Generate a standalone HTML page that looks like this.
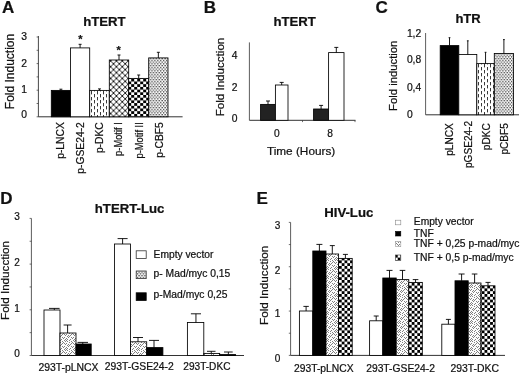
<!DOCTYPE html>
<html><head><meta charset="utf-8"><title>Figure</title>
<style>
html,body{margin:0;padding:0;background:#fff;}
body{width:520px;height:375px;overflow:hidden;}
svg{display:block;}
svg text{font-family:"Liberation Sans",Arial,Helvetica,sans-serif;fill:#111;stroke:#111;stroke-width:0.22px;}
</style></head><body>
<svg width="520" height="375" viewBox="0 0 520 375">
<defs>
<pattern id="vd" x="0" y="1" width="6" height="6" patternUnits="userSpaceOnUse"><rect width="6" height="6" fill="#fff"/><rect x="1" y="0" width="0.9" height="3.4" fill="#222"/><rect x="4" y="3" width="0.9" height="3" fill="#222"/><rect x="4" y="0" width="0.9" height="0.4" fill="#222"/></pattern>
<pattern id="xh" x="2.35" y="5.3" width="5.85" height="5.85" patternUnits="userSpaceOnUse"><rect width="5.85" height="5.85" fill="#fff"/><path d="M-1 -1L6.85 6.85M6.85 -1L-1 6.85" stroke="#0a0a0a" stroke-width="0.92"/></pattern>
<pattern id="ck" x="5.2" y="3.2" width="6" height="5.4" patternUnits="userSpaceOnUse"><rect width="6" height="5.4" fill="#fff"/><rect width="3" height="2.7" fill="#000"/><rect x="3" y="2.7" width="3" height="2.7" fill="#000"/></pattern>
<pattern id="dt" x="0.6" y="0.3" width="2.9" height="3.5" patternUnits="userSpaceOnUse"><rect width="2.9" height="3.5" fill="#fff"/><rect x="0" y="0" width="1.3" height="1.25" fill="#383838"/><rect x="1.45" y="1.75" width="1.3" height="1.25" fill="#383838"/></pattern>
<pattern id="dt2" width="3" height="3" patternUnits="userSpaceOnUse"><rect width="3" height="3" fill="#f4f4f4"/><rect width="1" height="1" fill="#777"/><rect x="1.5" y="1.5" width="1" height="1" fill="#999"/></pattern>
<pattern id="st" width="9" height="9" patternUnits="userSpaceOnUse"><rect width="9" height="9" fill="#fcfcfc"/><rect x="3" y="5" width="1" height="1" fill="#808080"/><rect x="0" y="0" width="1" height="1" fill="#808080"/><rect x="4" y="8" width="1" height="1" fill="#808080"/><rect x="2" y="6" width="1" height="1" fill="#808080"/><rect x="5" y="4" width="1" height="1" fill="#808080"/><rect x="0" y="5" width="1" height="1" fill="#808080"/><rect x="2" y="2" width="1" height="1" fill="#808080"/><rect x="4" y="3" width="1" height="1" fill="#808080"/><rect x="7" y="6" width="1" height="1" fill="#808080"/><rect x="4" y="6" width="1" height="1" fill="#808080"/><rect x="1" y="7" width="1" height="1" fill="#808080"/><rect x="3" y="1" width="1" height="1" fill="#808080"/><rect x="8" y="8" width="1" height="1" fill="#808080"/><rect x="6" y="7" width="1" height="1" fill="#808080"/><rect x="5" y="2" width="1" height="1" fill="#808080"/><rect x="1" y="1" width="1" height="1" fill="#808080"/><rect x="1" y="4" width="1" height="1" fill="#808080"/><rect x="8" y="1" width="1" height="1" fill="#808080"/><rect x="6" y="0" width="1" height="1" fill="#808080"/><rect x="6" y="3" width="1" height="1" fill="#808080"/><rect x="3" y="7" width="1" height="1" fill="#808080"/><rect x="8" y="4" width="1" height="1" fill="#808080"/><rect x="2" y="8" width="1" height="1" fill="#808080"/><rect x="7" y="2" width="1" height="1" fill="#808080"/></pattern>
<pattern id="ck2" x="2.9" y="2.8" width="5.6" height="5.6" patternUnits="userSpaceOnUse"><rect width="5.6" height="5.6" fill="#fff"/><rect width="2.8" height="2.8" fill="#000"/><rect x="2.8" y="2.8" width="2.8" height="2.8" fill="#000"/></pattern>
</defs>
<rect width="520" height="375" fill="#fff"/>

<g id="panelA">
<text x="1.9" y="13.4" font-size="17" font-weight="bold" text-anchor="start" stroke="#111" stroke-width="0.5">A</text>
<text x="83.2" y="26.1" font-size="13.2" font-weight="bold" text-anchor="start" stroke="#111" stroke-width="0.25">hTERT</text>
<line x1="38.4" y1="36" x2="38.4" y2="116.8" stroke="#333" stroke-width="0.9"/>
<line x1="38.4" y1="116.8" x2="182.6" y2="116.8" stroke="#333" stroke-width="1"/>
<line x1="36.6" y1="116.8" x2="38.4" y2="116.8" stroke="#333" stroke-width="0.7"/>
<text x="27.1" y="118.4" font-size="10.3" font-weight="normal" text-anchor="end">0</text>
<line x1="36.6" y1="90.2" x2="38.4" y2="90.2" stroke="#333" stroke-width="0.7"/>
<text x="27.1" y="93.2" font-size="10.3" font-weight="normal" text-anchor="end">1</text>
<line x1="36.6" y1="63.6" x2="38.4" y2="63.6" stroke="#333" stroke-width="0.7"/>
<text x="27.1" y="67.2" font-size="10.3" font-weight="normal" text-anchor="end">2</text>
<line x1="36.6" y1="37.0" x2="38.4" y2="37.0" stroke="#333" stroke-width="0.7"/>
<text x="27.1" y="40.3" font-size="10.3" font-weight="normal" text-anchor="end">3</text>
<line x1="36.6" y1="103.5" x2="38.4" y2="103.5" stroke="#333" stroke-width="0.7"/>
<line x1="36.6" y1="76.9" x2="38.4" y2="76.9" stroke="#333" stroke-width="0.7"/>
<line x1="36.6" y1="50.3" x2="38.4" y2="50.3" stroke="#333" stroke-width="0.7"/>
<text x="13.6" y="71.5" font-size="12" font-weight="normal" text-anchor="middle" transform="rotate(-90 13.6 71.5)">Fold Induction</text>
<rect x="51.30" y="90.40" width="19.20" height="26.40" fill="#000" stroke="#000" stroke-width="0.85"/>
<line x1="60.9" y1="90.4" x2="60.9" y2="89.2" stroke="#000" stroke-width="0.9"/>
<line x1="59.4" y1="89.2" x2="62.4" y2="89.2" stroke="#000" stroke-width="0.9"/>
<text x="64.4" y="122.2" font-size="10.3" font-weight="normal" text-anchor="end" transform="rotate(-90 64.4 122.2)">p-LNCX</text>
<rect x="70.50" y="47.90" width="19.20" height="68.90" fill="#fff" stroke="#000" stroke-width="0.85"/>
<line x1="80.1" y1="47.9" x2="80.1" y2="44.3" stroke="#000" stroke-width="0.9"/>
<line x1="78.6" y1="44.3" x2="81.6" y2="44.3" stroke="#000" stroke-width="0.9"/>
<text x="83.9" y="122.2" font-size="10.3" font-weight="normal" text-anchor="end" transform="rotate(-90 83.9 122.2)">p-GSE24-2</text>
<rect x="89.70" y="90.40" width="19.60" height="26.40" fill="url(#vd)" stroke="#000" stroke-width="0.85"/>
<line x1="99.5" y1="90.4" x2="99.5" y2="88.9" stroke="#000" stroke-width="0.9"/>
<line x1="98.0" y1="88.9" x2="101.0" y2="88.9" stroke="#000" stroke-width="0.9"/>
<text x="102.9" y="122.2" font-size="10.3" font-weight="normal" text-anchor="end" transform="rotate(-90 102.9 122.2)">p-DKC</text>
<rect x="109.30" y="60.00" width="19.40" height="56.80" fill="url(#xh)" stroke="#000" stroke-width="0.85"/>
<line x1="119.0" y1="60" x2="119.0" y2="55" stroke="#000" stroke-width="0.9"/>
<line x1="117.5" y1="55" x2="120.5" y2="55" stroke="#000" stroke-width="0.9"/>
<text x="122" y="122.2" font-size="10.3" font-weight="normal" text-anchor="end" transform="rotate(-90 122 122.2)" textLength="33.7" lengthAdjust="spacingAndGlyphs">p-Motif I</text>
<rect x="128.70" y="78.40" width="20.00" height="38.40" fill="url(#ck)" stroke="#000" stroke-width="0.85"/>
<line x1="138.7" y1="78.4" x2="138.7" y2="75.0" stroke="#000" stroke-width="0.9"/>
<line x1="137.2" y1="75.0" x2="140.2" y2="75.0" stroke="#000" stroke-width="0.9"/>
<text x="143.2" y="122.2" font-size="10.3" font-weight="normal" text-anchor="end" transform="rotate(-90 143.2 122.2)" textLength="36.3" lengthAdjust="spacingAndGlyphs">p-Motif II</text>
<rect x="148.70" y="57.90" width="19.30" height="58.90" fill="url(#dt)" stroke="#000" stroke-width="0.85"/>
<line x1="158.35" y1="57.9" x2="158.35" y2="52.3" stroke="#000" stroke-width="0.9"/>
<line x1="156.85" y1="52.3" x2="159.85" y2="52.3" stroke="#000" stroke-width="0.9"/>
<text x="162.7" y="122.2" font-size="10.3" font-weight="normal" text-anchor="end" transform="rotate(-90 162.7 122.2)">p-CBF5</text>
<text x="80.3" y="43.3" font-size="11" font-weight="bold" text-anchor="middle" stroke="#111" stroke-width="0.5">*</text>
<text x="118.7" y="54.3" font-size="11" font-weight="bold" text-anchor="middle" stroke="#111" stroke-width="0.5">*</text>
</g>
<g id="panelB">
<text x="203.7" y="12.7" font-size="17" font-weight="bold" text-anchor="start" stroke="#111" stroke-width="0.5">B</text>
<text x="273.4" y="26.1" font-size="13.2" font-weight="bold" text-anchor="start" stroke="#111" stroke-width="0.25">hTERT</text>
<line x1="249.4" y1="42.4" x2="249.4" y2="120.3" stroke="#333" stroke-width="0.8"/>
<line x1="249.4" y1="120.3" x2="355.5" y2="120.3" stroke="#333" stroke-width="1"/>
<line x1="302.5" y1="120.3" x2="302.5" y2="122.1" stroke="#333" stroke-width="0.7"/>
<line x1="355" y1="120.3" x2="355" y2="122.1" stroke="#333" stroke-width="0.7"/>
<text x="237.6" y="121.9" font-size="10.3" font-weight="normal" text-anchor="end">0</text>
<text x="237.6" y="90.9" font-size="10.3" font-weight="normal" text-anchor="end">2</text>
<text x="237.6" y="59.3" font-size="10.3" font-weight="normal" text-anchor="end">4</text>
<text x="224.2" y="77" font-size="11.6" font-weight="normal" text-anchor="middle" transform="rotate(-90 224.2 77)">Fold Inducction</text>
<rect x="260.60" y="104.40" width="14.80" height="15.90" fill="#222" stroke="#000" stroke-width="0.85"/>
<line x1="268.0" y1="104.4" x2="268.0" y2="101.0" stroke="#000" stroke-width="0.9"/>
<line x1="266.0" y1="101.0" x2="270.0" y2="101.0" stroke="#000" stroke-width="0.9"/>
<rect x="275.40" y="85.00" width="12.60" height="35.30" fill="#fff" stroke="#000" stroke-width="0.85"/>
<line x1="281.7" y1="85" x2="281.7" y2="82.4" stroke="#000" stroke-width="0.9"/>
<line x1="279.7" y1="82.4" x2="283.7" y2="82.4" stroke="#000" stroke-width="0.9"/>
<rect x="313.60" y="109.00" width="15.00" height="11.30" fill="#222" stroke="#000" stroke-width="0.85"/>
<line x1="321.1" y1="109" x2="321.1" y2="105.4" stroke="#000" stroke-width="0.9"/>
<line x1="319.1" y1="105.4" x2="323.1" y2="105.4" stroke="#000" stroke-width="0.9"/>
<rect x="328.60" y="52.60" width="15.40" height="67.70" fill="#fff" stroke="#000" stroke-width="0.85"/>
<line x1="336.3" y1="52.6" x2="336.3" y2="47.4" stroke="#000" stroke-width="0.9"/>
<line x1="334.3" y1="47.4" x2="338.3" y2="47.4" stroke="#000" stroke-width="0.9"/>
<text x="276.9" y="136.6" font-size="10.2" font-weight="normal" text-anchor="middle">0</text>
<text x="330.2" y="136.6" font-size="10.2" font-weight="normal" text-anchor="middle">8</text>
<text x="301.1" y="154.5" font-size="11.8" font-weight="normal" text-anchor="middle">Time (Hours)</text>
</g>
<g id="panelC">
<text x="375.4" y="13" font-size="17" font-weight="bold" text-anchor="start" stroke="#111" stroke-width="0.5">C</text>
<text x="455.4" y="23.3" font-size="13" font-weight="bold" text-anchor="start" stroke="#111" stroke-width="0.25">hTR</text>
<line x1="425.6" y1="33" x2="425.6" y2="114.8" stroke="#333" stroke-width="0.8"/>
<line x1="425.6" y1="114.8" x2="519" y2="114.8" stroke="#333" stroke-width="1"/>
<text x="406.9" y="118.3" font-size="10.3" font-weight="normal" text-anchor="start">0</text>
<text x="406.9" y="90.5" font-size="10.3" font-weight="normal" text-anchor="start">0,4</text>
<text x="406.9" y="63.0" font-size="10.3" font-weight="normal" text-anchor="start">0,8</text>
<text x="406.9" y="36.5" font-size="10.3" font-weight="normal" text-anchor="start">1,2</text>
<text x="397.2" y="75.8" font-size="11.3" font-weight="normal" text-anchor="middle" transform="rotate(-90 397.2 75.8)">Fold induction</text>
<rect x="440.20" y="45.60" width="18.60" height="69.20" fill="#000" stroke="#000" stroke-width="0.85"/>
<line x1="449.5" y1="45.6" x2="449.5" y2="37.7" stroke="#000" stroke-width="0.9"/>
<line x1="448.6" y1="37.7" x2="450.4" y2="37.7" stroke="#000" stroke-width="0.9"/>
<text x="452.9" y="123.2" font-size="10.1" font-weight="normal" text-anchor="end" transform="rotate(-90 452.9 123.2)">pLNCX</text>
<rect x="458.80" y="54.50" width="18.00" height="60.30" fill="#fff" stroke="#000" stroke-width="0.85"/>
<line x1="467.8" y1="54.5" x2="467.8" y2="40.8" stroke="#000" stroke-width="0.9"/>
<line x1="466.90000000000003" y1="40.8" x2="468.7" y2="40.8" stroke="#000" stroke-width="0.9"/>
<text x="472" y="120.9" font-size="10.1" font-weight="normal" text-anchor="end" transform="rotate(-90 472 120.9)">pGSE24-2</text>
<rect x="476.80" y="63.60" width="17.50" height="51.20" fill="url(#vd)" stroke="#000" stroke-width="0.85"/>
<line x1="485.55" y1="63.6" x2="485.55" y2="52.3" stroke="#000" stroke-width="0.9"/>
<line x1="484.65000000000003" y1="52.3" x2="486.45" y2="52.3" stroke="#000" stroke-width="0.9"/>
<text x="490.3" y="123.2" font-size="10.1" font-weight="normal" text-anchor="end" transform="rotate(-90 490.3 123.2)">pDKC</text>
<rect x="494.30" y="53.50" width="19.20" height="61.30" fill="url(#dt)" stroke="#000" stroke-width="0.85"/>
<line x1="503.9" y1="53.5" x2="503.9" y2="39.6" stroke="#000" stroke-width="0.9"/>
<line x1="503.0" y1="39.6" x2="504.79999999999995" y2="39.6" stroke="#000" stroke-width="0.9"/>
<text x="508.5" y="123.2" font-size="10.1" font-weight="normal" text-anchor="end" transform="rotate(-90 508.5 123.2)">pCBF5</text>
</g>
<g id="panelD">
<text x="0.3" y="204.4" font-size="17" font-weight="bold" text-anchor="start" stroke="#111" stroke-width="0.5">D</text>
<text x="94.8" y="213.2" font-size="13.2" font-weight="bold" text-anchor="start" stroke="#111" stroke-width="0.25">hTERT-Luc</text>
<line x1="31.4" y1="218.4" x2="31.4" y2="355.5" stroke="#333" stroke-width="0.8"/>
<line x1="31.4" y1="355.5" x2="244" y2="355.5" stroke="#333" stroke-width="1"/>
<line x1="29.599999999999998" y1="355.5" x2="31.4" y2="355.5" stroke="#333" stroke-width="0.7"/>
<line x1="29.599999999999998" y1="332.65" x2="31.4" y2="332.65" stroke="#333" stroke-width="0.7"/>
<line x1="29.599999999999998" y1="309.8" x2="31.4" y2="309.8" stroke="#333" stroke-width="0.7"/>
<line x1="29.599999999999998" y1="286.95" x2="31.4" y2="286.95" stroke="#333" stroke-width="0.7"/>
<line x1="29.599999999999998" y1="264.1" x2="31.4" y2="264.1" stroke="#333" stroke-width="0.7"/>
<line x1="29.599999999999998" y1="241.25" x2="31.4" y2="241.25" stroke="#333" stroke-width="0.7"/>
<line x1="29.599999999999998" y1="218.4" x2="31.4" y2="218.4" stroke="#333" stroke-width="0.7"/>
<text x="19.7" y="357.05" font-size="10" font-weight="normal" text-anchor="end">0</text>
<text x="19.7" y="312.05" font-size="10" font-weight="normal" text-anchor="end">1</text>
<text x="19.7" y="266.05" font-size="10" font-weight="normal" text-anchor="end">2</text>
<text x="19.7" y="220.05" font-size="10" font-weight="normal" text-anchor="end">3</text>
<text x="9" y="280.5" font-size="11.65" font-weight="normal" text-anchor="middle" transform="rotate(-90 9 280.5)">Fold Inducction</text>
<rect x="44.00" y="310.00" width="16.00" height="45.50" fill="#fff" stroke="#000" stroke-width="0.85"/>
<line x1="54.3" y1="310" x2="54.3" y2="308.4" stroke="#000" stroke-width="0.9"/>
<line x1="49" y1="308.4" x2="59.6" y2="308.4" stroke="#000" stroke-width="0.9"/>
<rect x="60.00" y="333.00" width="16.00" height="22.50" fill="url(#st)" stroke="#000" stroke-width="0.85"/>
<line x1="67.6" y1="333" x2="67.6" y2="325" stroke="#000" stroke-width="0.9"/>
<line x1="63.6" y1="325" x2="71.6" y2="325" stroke="#000" stroke-width="0.9"/>
<rect x="76.00" y="344.00" width="15.20" height="11.50" fill="#000" stroke="#000" stroke-width="0.85"/>
<line x1="82.75" y1="344" x2="82.75" y2="342.4" stroke="#000" stroke-width="0.9"/>
<line x1="77.5" y1="342.4" x2="88" y2="342.4" stroke="#000" stroke-width="0.9"/>
<rect x="114.50" y="244.00" width="16.00" height="111.50" fill="#fff" stroke="#000" stroke-width="0.85"/>
<line x1="122.6" y1="244" x2="122.6" y2="238.6" stroke="#000" stroke-width="0.9"/>
<line x1="117.6" y1="238.6" x2="127.6" y2="238.6" stroke="#000" stroke-width="0.9"/>
<rect x="130.50" y="341.80" width="16.20" height="13.70" fill="url(#st)" stroke="#000" stroke-width="0.85"/>
<line x1="138.0" y1="341.8" x2="138.0" y2="337.5" stroke="#000" stroke-width="0.9"/>
<line x1="133" y1="337.5" x2="143" y2="337.5" stroke="#000" stroke-width="0.9"/>
<rect x="146.70" y="347.60" width="16.20" height="7.90" fill="#000" stroke="#000" stroke-width="0.85"/>
<line x1="154.0" y1="347.6" x2="154.0" y2="340.4" stroke="#000" stroke-width="0.9"/>
<line x1="149" y1="340.4" x2="159" y2="340.4" stroke="#000" stroke-width="0.9"/>
<rect x="187.40" y="322.50" width="16.40" height="33.00" fill="#fff" stroke="#000" stroke-width="0.85"/>
<line x1="195.95" y1="322.5" x2="195.95" y2="313.8" stroke="#000" stroke-width="0.9"/>
<line x1="190.9" y1="313.8" x2="201" y2="313.8" stroke="#000" stroke-width="0.9"/>
<rect x="203.80" y="353.40" width="15.90" height="2.10" fill="url(#st)" stroke="#000" stroke-width="0.85"/>
<line x1="211.25" y1="353.4" x2="211.25" y2="351.3" stroke="#000" stroke-width="0.9"/>
<line x1="207" y1="351.3" x2="215.5" y2="351.3" stroke="#000" stroke-width="0.9"/>
<rect x="219.70" y="354.60" width="15.90" height="0.90" fill="#000" stroke="#000" stroke-width="0.85"/>
<line x1="228.35" y1="354.6" x2="228.35" y2="352" stroke="#000" stroke-width="0.9"/>
<line x1="224" y1="352" x2="232.7" y2="352" stroke="#000" stroke-width="0.9"/>
<text x="38.4" y="370.7" font-size="10.4" font-weight="normal" text-anchor="start">293T-pLNCX</text>
<text x="104.8" y="369.9" font-size="10.35" font-weight="normal" text-anchor="start">293T-GSE24-2</text>
<text x="183.3" y="369.9" font-size="10.1" font-weight="normal" text-anchor="start">293T-DKC</text>
<rect x="136.20" y="250.80" width="10.00" height="7.60" fill="#fff" stroke="#333" stroke-width="0.8"/>
<rect x="136.20" y="271.00" width="10.00" height="7.60" fill="url(#dt)" stroke="#333" stroke-width="0.8"/>
<rect x="136.20" y="292.80" width="10.00" height="7.60" fill="#000" stroke="#000" stroke-width="0.8"/>
<text x="153.6" y="258.3" font-size="10.25" font-weight="normal" text-anchor="start">Empty vector</text>
<text x="153.6" y="277.4" font-size="10.3" font-weight="normal" text-anchor="start">p- Mad/myc 0,15</text>
<text x="153.6" y="297.7" font-size="10.3" font-weight="normal" text-anchor="start">p-Mad/myc 0,25</text>
</g>
<g id="panelE">
<text x="256.6" y="203.9" font-size="17" font-weight="bold" text-anchor="start" stroke="#111" stroke-width="0.5">E</text>
<text x="324.2" y="217.4" font-size="13.2" font-weight="bold" text-anchor="start" stroke="#111" stroke-width="0.25">HIV-Luc</text>
<line x1="290.6" y1="222.4" x2="290.6" y2="355.4" stroke="#333" stroke-width="0.8"/>
<line x1="290.6" y1="355.4" x2="505" y2="355.4" stroke="#333" stroke-width="1"/>
<line x1="288.8" y1="355.4" x2="290.6" y2="355.4" stroke="#333" stroke-width="0.7"/>
<line x1="288.8" y1="333.2333333333333" x2="290.6" y2="333.2333333333333" stroke="#333" stroke-width="0.7"/>
<line x1="288.8" y1="311.06666666666666" x2="290.6" y2="311.06666666666666" stroke="#333" stroke-width="0.7"/>
<line x1="288.8" y1="288.9" x2="290.6" y2="288.9" stroke="#333" stroke-width="0.7"/>
<line x1="288.8" y1="266.73333333333335" x2="290.6" y2="266.73333333333335" stroke="#333" stroke-width="0.7"/>
<line x1="288.8" y1="244.56666666666666" x2="290.6" y2="244.56666666666666" stroke="#333" stroke-width="0.7"/>
<line x1="288.8" y1="222.4" x2="290.6" y2="222.4" stroke="#333" stroke-width="0.7"/>
<text x="280.3" y="362.05" font-size="10" font-weight="normal" text-anchor="end">0</text>
<text x="280.3" y="317.35" font-size="10" font-weight="normal" text-anchor="end">1</text>
<text x="280.3" y="274.05" font-size="10" font-weight="normal" text-anchor="end">2</text>
<text x="280.3" y="229.05" font-size="10" font-weight="normal" text-anchor="end">3</text>
<text x="268" y="285.3" font-size="11.7" font-weight="normal" text-anchor="middle" transform="rotate(-90 268 285.3)">Fold Inducction</text>
<rect x="299.40" y="311.00" width="13.40" height="44.40" fill="#fff" stroke="#000" stroke-width="0.85"/>
<line x1="306.1" y1="311" x2="306.1" y2="306.4" stroke="#000" stroke-width="0.9"/>
<line x1="303.40000000000003" y1="306.4" x2="308.8" y2="306.4" stroke="#000" stroke-width="0.9"/>
<rect x="312.80" y="251.00" width="13.20" height="104.40" fill="#000" stroke="#000" stroke-width="0.85"/>
<line x1="319.4" y1="251" x2="319.4" y2="244.4" stroke="#000" stroke-width="0.9"/>
<line x1="316.4" y1="244.4" x2="322.4" y2="244.4" stroke="#000" stroke-width="0.9"/>
<rect x="326.00" y="254.00" width="12.60" height="101.40" fill="url(#st)" stroke="#000" stroke-width="0.85"/>
<line x1="332.3" y1="254" x2="332.3" y2="245.6" stroke="#000" stroke-width="0.9"/>
<line x1="329.8" y1="245.6" x2="334.8" y2="245.6" stroke="#000" stroke-width="0.9"/>
<rect x="338.60" y="258.40" width="13.60" height="97.00" fill="url(#ck2)" stroke="#000" stroke-width="0.85"/>
<line x1="345.4" y1="258.4" x2="345.4" y2="254.4" stroke="#000" stroke-width="0.9"/>
<line x1="342.9" y1="254.4" x2="347.9" y2="254.4" stroke="#000" stroke-width="0.9"/>
<rect x="369.60" y="320.80" width="13.20" height="34.60" fill="#fff" stroke="#000" stroke-width="0.85"/>
<line x1="376.20000000000005" y1="320.8" x2="376.20000000000005" y2="316" stroke="#000" stroke-width="0.9"/>
<line x1="373.70000000000005" y1="316" x2="378.70000000000005" y2="316" stroke="#000" stroke-width="0.9"/>
<rect x="382.80" y="278.00" width="13.40" height="77.40" fill="#000" stroke="#000" stroke-width="0.85"/>
<line x1="389.5" y1="278" x2="389.5" y2="270.4" stroke="#000" stroke-width="0.9"/>
<line x1="386.5" y1="270.4" x2="392.5" y2="270.4" stroke="#000" stroke-width="0.9"/>
<rect x="396.20" y="279.60" width="12.60" height="75.80" fill="url(#st)" stroke="#000" stroke-width="0.85"/>
<line x1="402.5" y1="279.6" x2="402.5" y2="270.4" stroke="#000" stroke-width="0.9"/>
<line x1="399.7" y1="270.4" x2="405.3" y2="270.4" stroke="#000" stroke-width="0.9"/>
<rect x="408.80" y="282.40" width="13.50" height="73.00" fill="url(#ck2)" stroke="#000" stroke-width="0.85"/>
<line x1="415.55" y1="282.4" x2="415.55" y2="279.6" stroke="#000" stroke-width="0.9"/>
<line x1="412.75" y1="279.6" x2="418.35" y2="279.6" stroke="#000" stroke-width="0.9"/>
<rect x="441.80" y="324.20" width="13.20" height="31.20" fill="#fff" stroke="#000" stroke-width="0.85"/>
<line x1="448.4" y1="324.2" x2="448.4" y2="319.4" stroke="#000" stroke-width="0.9"/>
<line x1="445.9" y1="319.4" x2="450.9" y2="319.4" stroke="#000" stroke-width="0.9"/>
<rect x="455.00" y="280.80" width="13.20" height="74.60" fill="#000" stroke="#000" stroke-width="0.85"/>
<line x1="461.6" y1="280.8" x2="461.6" y2="274" stroke="#000" stroke-width="0.9"/>
<line x1="458.6" y1="274" x2="464.6" y2="274" stroke="#000" stroke-width="0.9"/>
<rect x="468.20" y="283.00" width="12.80" height="72.40" fill="url(#st)" stroke="#000" stroke-width="0.85"/>
<line x1="474.6" y1="283" x2="474.6" y2="274" stroke="#000" stroke-width="0.9"/>
<line x1="471.8" y1="274" x2="477.40000000000003" y2="274" stroke="#000" stroke-width="0.9"/>
<rect x="481.00" y="285.80" width="14.00" height="69.60" fill="url(#ck2)" stroke="#000" stroke-width="0.85"/>
<line x1="488.0" y1="285.8" x2="488.0" y2="282.4" stroke="#000" stroke-width="0.9"/>
<line x1="485.5" y1="282.4" x2="490.5" y2="282.4" stroke="#000" stroke-width="0.9"/>
<text x="294" y="372.3" font-size="10.3" font-weight="normal" text-anchor="start">293T-pLNCX</text>
<text x="366.2" y="372.2" font-size="10.3" font-weight="normal" text-anchor="start">293T-GSE24-2</text>
<text x="450.4" y="372.3" font-size="10.4" font-weight="normal" text-anchor="start">293T-DKC</text>
<rect x="395.60" y="220.20" width="5.20" height="4.60" fill="#fff" stroke="#888" stroke-width="0.6"/>
<rect x="395.60" y="231.40" width="5.20" height="4.60" fill="#000" stroke="#000" stroke-width="0.6"/>
<rect x="395.60" y="241.60" width="5.20" height="5.00" fill="url(#st)" stroke="#999" stroke-width="0.6"/>
<rect x="395.60" y="255.00" width="5.20" height="5.40" fill="url(#ck2)" stroke="#333" stroke-width="0.6"/>
<text x="413.8" y="225" font-size="10.25" font-weight="normal" text-anchor="start">Empty vector</text>
<text x="413.8" y="236.7" font-size="10.3" font-weight="normal" text-anchor="start">TNF</text>
<text x="413.8" y="247.1" font-size="10.3" font-weight="normal" text-anchor="start">TNF + 0,25 p-mad/myc</text>
<text x="413.8" y="260.6" font-size="10.3" font-weight="normal" text-anchor="start">TNF + 0,5 p-mad/myc</text>
</g>
</svg></body></html>
